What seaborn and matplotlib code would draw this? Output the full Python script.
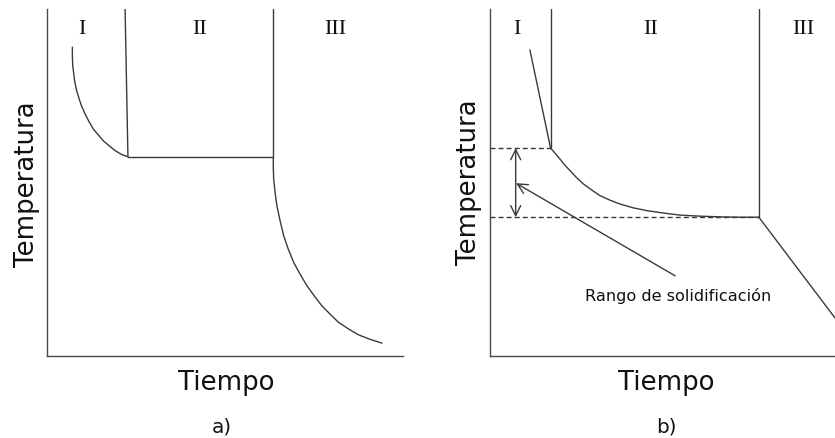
import matplotlib
matplotlib.use("Agg")
import matplotlib.pyplot as plt
import seaborn as sns

# ---------------- (a) pure metal: cooling curve with thermal arrest ----------------
a_liquid_t = [0.72, 0.72, 0.73, 0.76, 0.79, 0.84, 0.91, 0.98, 1.08, 1.19, 1.31,
              1.45, 1.59, 1.75, 1.92, 2.10, 2.28]
a_liquid_T = [8.90, 8.65, 8.37, 8.13, 7.89, 7.65, 7.41, 7.20, 6.97, 6.75, 6.54,
              6.37, 6.20, 6.06, 5.92, 5.81, 5.74]
a_arrest_t = [2.28, 6.36]
a_arrest_T = [5.74, 5.74]
a_solid_t = [6.36, 6.36, 6.37, 6.41, 6.46, 6.55, 6.65, 6.78, 6.93, 7.11, 7.30,
             7.51, 7.72, 7.96, 8.19, 8.47, 8.75, 9.08, 9.41]
a_solid_T = [5.74, 5.43, 5.10, 4.71, 4.33, 3.90, 3.47, 3.08, 2.70, 2.36, 2.03,
             1.73, 1.45, 1.20, 0.97, 0.78, 0.61, 0.48, 0.37]
a_border1_t = [2.20, 2.28]
a_border1_T = [10.0, 5.74]
a_border2_t = [6.36, 6.36]
a_border2_T = [10.0, 5.74]
a_stage_t = [0.99, 4.28, 8.10]

# ---------------- (b) alloy: cooling through a solidification range ----------------
b_liquid_t = [1.13, 1.71]
b_liquid_T = [8.82, 5.99]
b_mushy_t = [1.71, 1.83, 1.97, 2.11, 2.26, 2.44, 2.63, 2.87, 3.10, 3.38, 3.66,
             4.03, 4.41, 4.88, 5.35, 5.91, 6.47, 7.03, 7.56]
b_mushy_T = [5.99, 5.85, 5.68, 5.50, 5.34, 5.14, 4.96, 4.78, 4.62, 4.49, 4.38,
             4.27, 4.19, 4.12, 4.06, 4.03, 4.01, 4.00, 4.00]
b_solid_t = [7.56, 9.80]
b_solid_T = [4.00, 0.96]
b_liquidus = 5.99
b_solidus = 4.00
b_border_t = [1.71, 7.56]
b_range_t = 0.73
b_stage_t = [0.77, 4.53, 8.80]

stage_labels = ["I", "II", "III"]
x_label = "Tiempo"
y_label = "Temperatura"
panel_labels = ["a)", "b)"]
range_text = "Rango de solidificación"

sns.set_style("white")
plt.rcParams["font.family"] = ["DejaVu Sans"]

W, H = 835, 439
fig = plt.figure(figsize=(W / 100, H / 100), dpi=100)

LINE = "#3a3a3a"
SPINE = "#4a4a4a"


def px_axes(left, top, right, bottom):
    return fig.add_axes([left / W, (H - bottom) / H, (right - left) / W, (bottom - top) / H])


def style(ax):
    ax.set_xlim(0, 10)
    ax.set_ylim(0, 10)
    ax.set_xticks([])
    ax.set_yticks([])
    for s in ("top", "right"):
        ax.spines[s].set_visible(False)
    for s in ("left", "bottom"):
        ax.spines[s].set_color(SPINE)
        ax.spines[s].set_linewidth(1.0)
    ax.set_xlabel("")
    ax.set_ylabel("")
    ax.patch.set_alpha(0)


def curve(ax, t, T, **kw):
    sns.lineplot(x=t, y=T, sort=False, ax=ax, color=LINE, linewidth=1.0,
                 estimator=None, legend=False, **kw)


def stages(ax, xs):
    for x, lab in zip(xs, stage_labels):
        ax.text(x, 9.30, lab, ha="center", va="baseline", fontsize=16,
                family="Liberation Serif", color="#111111")


# ---- panel a ----
ax1 = px_axes(46.7, 10, 403, 357)
curve(ax1, a_liquid_t, a_liquid_T)
curve(ax1, a_arrest_t, a_arrest_T)
curve(ax1, a_solid_t, a_solid_T)
curve(ax1, a_border1_t, a_border1_T)
curve(ax1, a_border2_t, a_border2_T)
stages(ax1, a_stage_t)
style(ax1)

# ---- panel b ----
ax2 = px_axes(489.7, 10, 845.7, 357)
curve(ax2, b_liquid_t, b_liquid_T)
curve(ax2, b_mushy_t, b_mushy_T)
curve(ax2, b_solid_t, b_solid_T)
curve(ax2, [b_border_t[0], b_border_t[0]], [10.0, b_liquidus])
curve(ax2, [b_border_t[1], b_border_t[1]], [10.0, b_solidus])
dash = (0, (3.6, 2.2))
curve(ax2, [0, b_border_t[0]], [b_liquidus, b_liquidus], linestyle=dash)
curve(ax2, [0, b_border_t[1]], [b_solidus, b_solidus], linestyle=dash)
ax2.annotate("", xy=(b_range_t, b_solidus), xytext=(b_range_t, b_liquidus),
             arrowprops=dict(arrowstyle="<->", color=LINE, lw=1.0,
                             mutation_scale=18, shrinkA=0, shrinkB=0))
ax2.annotate("", xy=(0.74, 4.98), xytext=(5.21, 2.31),
             arrowprops=dict(arrowstyle="->", color=LINE, lw=1.0,
                             mutation_scale=18, shrinkA=0, shrinkB=0))
ax2.text(5.30, 1.62, range_text, ha="center", va="baseline", fontsize=11.6,
         color="#111111")
stages(ax2, b_stage_t)
style(ax2)

# ---- axis titles and panel captions ----
fig.text(226.5 / W, (H - 390) / H, x_label, ha="center", va="baseline",
         fontsize=18.7, color="#111111")
fig.text(666 / W, (H - 390) / H, x_label, ha="center", va="baseline",
         fontsize=18.7, color="#111111")
fig.text(221.7 / W, (H - 433) / H, panel_labels[0], ha="center", va="baseline",
         fontsize=14.4, color="#111111")
fig.text(666 / W, (H - 433) / H, panel_labels[1], ha="center", va="baseline",
         fontsize=14.4, color="#111111")
fig.text(27.5 / W, (H - 184) / H, y_label, rotation=90, ha="center", va="center",
         fontsize=18.7, color="#111111")
fig.text(469 / W, (H - 182.5) / H, y_label, rotation=90, ha="center", va="center",
         fontsize=18.7, color="#111111")

fig.savefig("out.png", dpi=100, facecolor="white")
